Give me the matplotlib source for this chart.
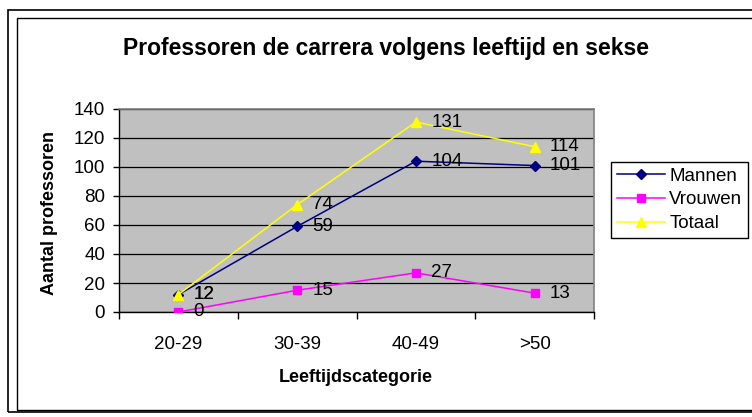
import matplotlib.pyplot as plt
from matplotlib.patches import Rectangle

categories = ["20-29", "30-39", "40-49", ">50"]
mannen = [12, 59, 104, 101]
vrouwen = [0, 15, 27, 13]
totaal = [12, 74, 131, 114]

plt.rcParams['font.family'] = ['Liberation Sans', 'DejaVu Sans']

W, H = 752, 417
fig = plt.figure(figsize=(W / 100, H / 100), dpi=100)

# chart frame (two lines, like the Excel export)
fig.patches.append(Rectangle((8 / W, 1 - 412 / H), 760 / W, 402 / H, transform=fig.transFigure,
                             fill=False, edgecolor='black', linewidth=1.2))
fig.patches.append(Rectangle((17 / W, 1 - 410 / H), 760 / W, 392 / H, transform=fig.transFigure,
                             fill=False, edgecolor='black', linewidth=1.0))

ax = fig.add_axes([119 / W, 1 - 312 / H, 475 / W, 203 / H])
ax.set_facecolor('#C0C0C0')

x = list(range(len(categories)))
series = [
    ("Mannen", mannen, '#000080', 'D', 5.5),
    ("Vrouwen", vrouwen, '#FF00FF', 's', 6),
    ("Totaal", totaal, '#FFFF00', '^', 7.5),
]
for name, vals, col, mk, ms in series:
    ax.plot(x, vals, color=col, marker=mk, markersize=ms, linewidth=1.1, label=name,
            markeredgecolor=col, zorder=3)
    for xi, v in zip(x, vals):
        ax.annotate(str(v), (xi, v), xytext=(11, 0), textcoords='offset points',
                    ha='left', va='center', fontsize=13.5, color='black', zorder=4)

ax.set_xlim(-0.5, 3.5)
ax.set_ylim(0, 140)
ax.set_yticks(range(0, 141, 20))
ax.yaxis.grid(True, color='black', linewidth=0.9)
ax.set_axisbelow(True)
ax.set_xticks(x)
ax.set_xticklabels(categories)
ax.set_xticks([-0.5, 0.5, 1.5, 2.5, 3.5], minor=True)
ax.tick_params(axis='x', which='major', length=0, labelsize=13.5, pad=17)
ax.tick_params(axis='x', which='minor', length=5, direction='out', width=1)
ax.tick_params(axis='y', length=4, direction='out', labelsize=13.5, pad=6, width=1)

for s in ['top', 'right']:
    ax.spines[s].set_color('#808080')
    ax.spines[s].set_linewidth(1.2)
for s in ['left', 'bottom']:
    ax.spines[s].set_color('black')
    ax.spines[s].set_linewidth(1.0)

fig.text(386 / W, 1 - 48 / H, "Professoren de carrera volgens leeftijd en sekse",
         ha='center', va='center', fontsize=16.5, fontweight='bold')
fig.text(356 / W, 1 - 377 / H, "Leeftijdscategorie", ha='center', va='center',
         fontsize=13, fontweight='bold')
fig.text(50 / W, 1 - 213 / H, "Aantal professoren", ha='center', va='center',
         rotation=90, fontsize=13, fontweight='bold')

leg = fig.legend(loc='upper left', bbox_to_anchor=(611 / W, 1 - 162 / H), fontsize=13.5,
                 frameon=True, fancybox=False, edgecolor='black', framealpha=1,
                 handlelength=2.6, handletextpad=0.2, borderpad=0.3, labelspacing=0.35,
                 borderaxespad=0)
leg.get_frame().set_linewidth(1.0)

fig.savefig("out.png", dpi=100)
